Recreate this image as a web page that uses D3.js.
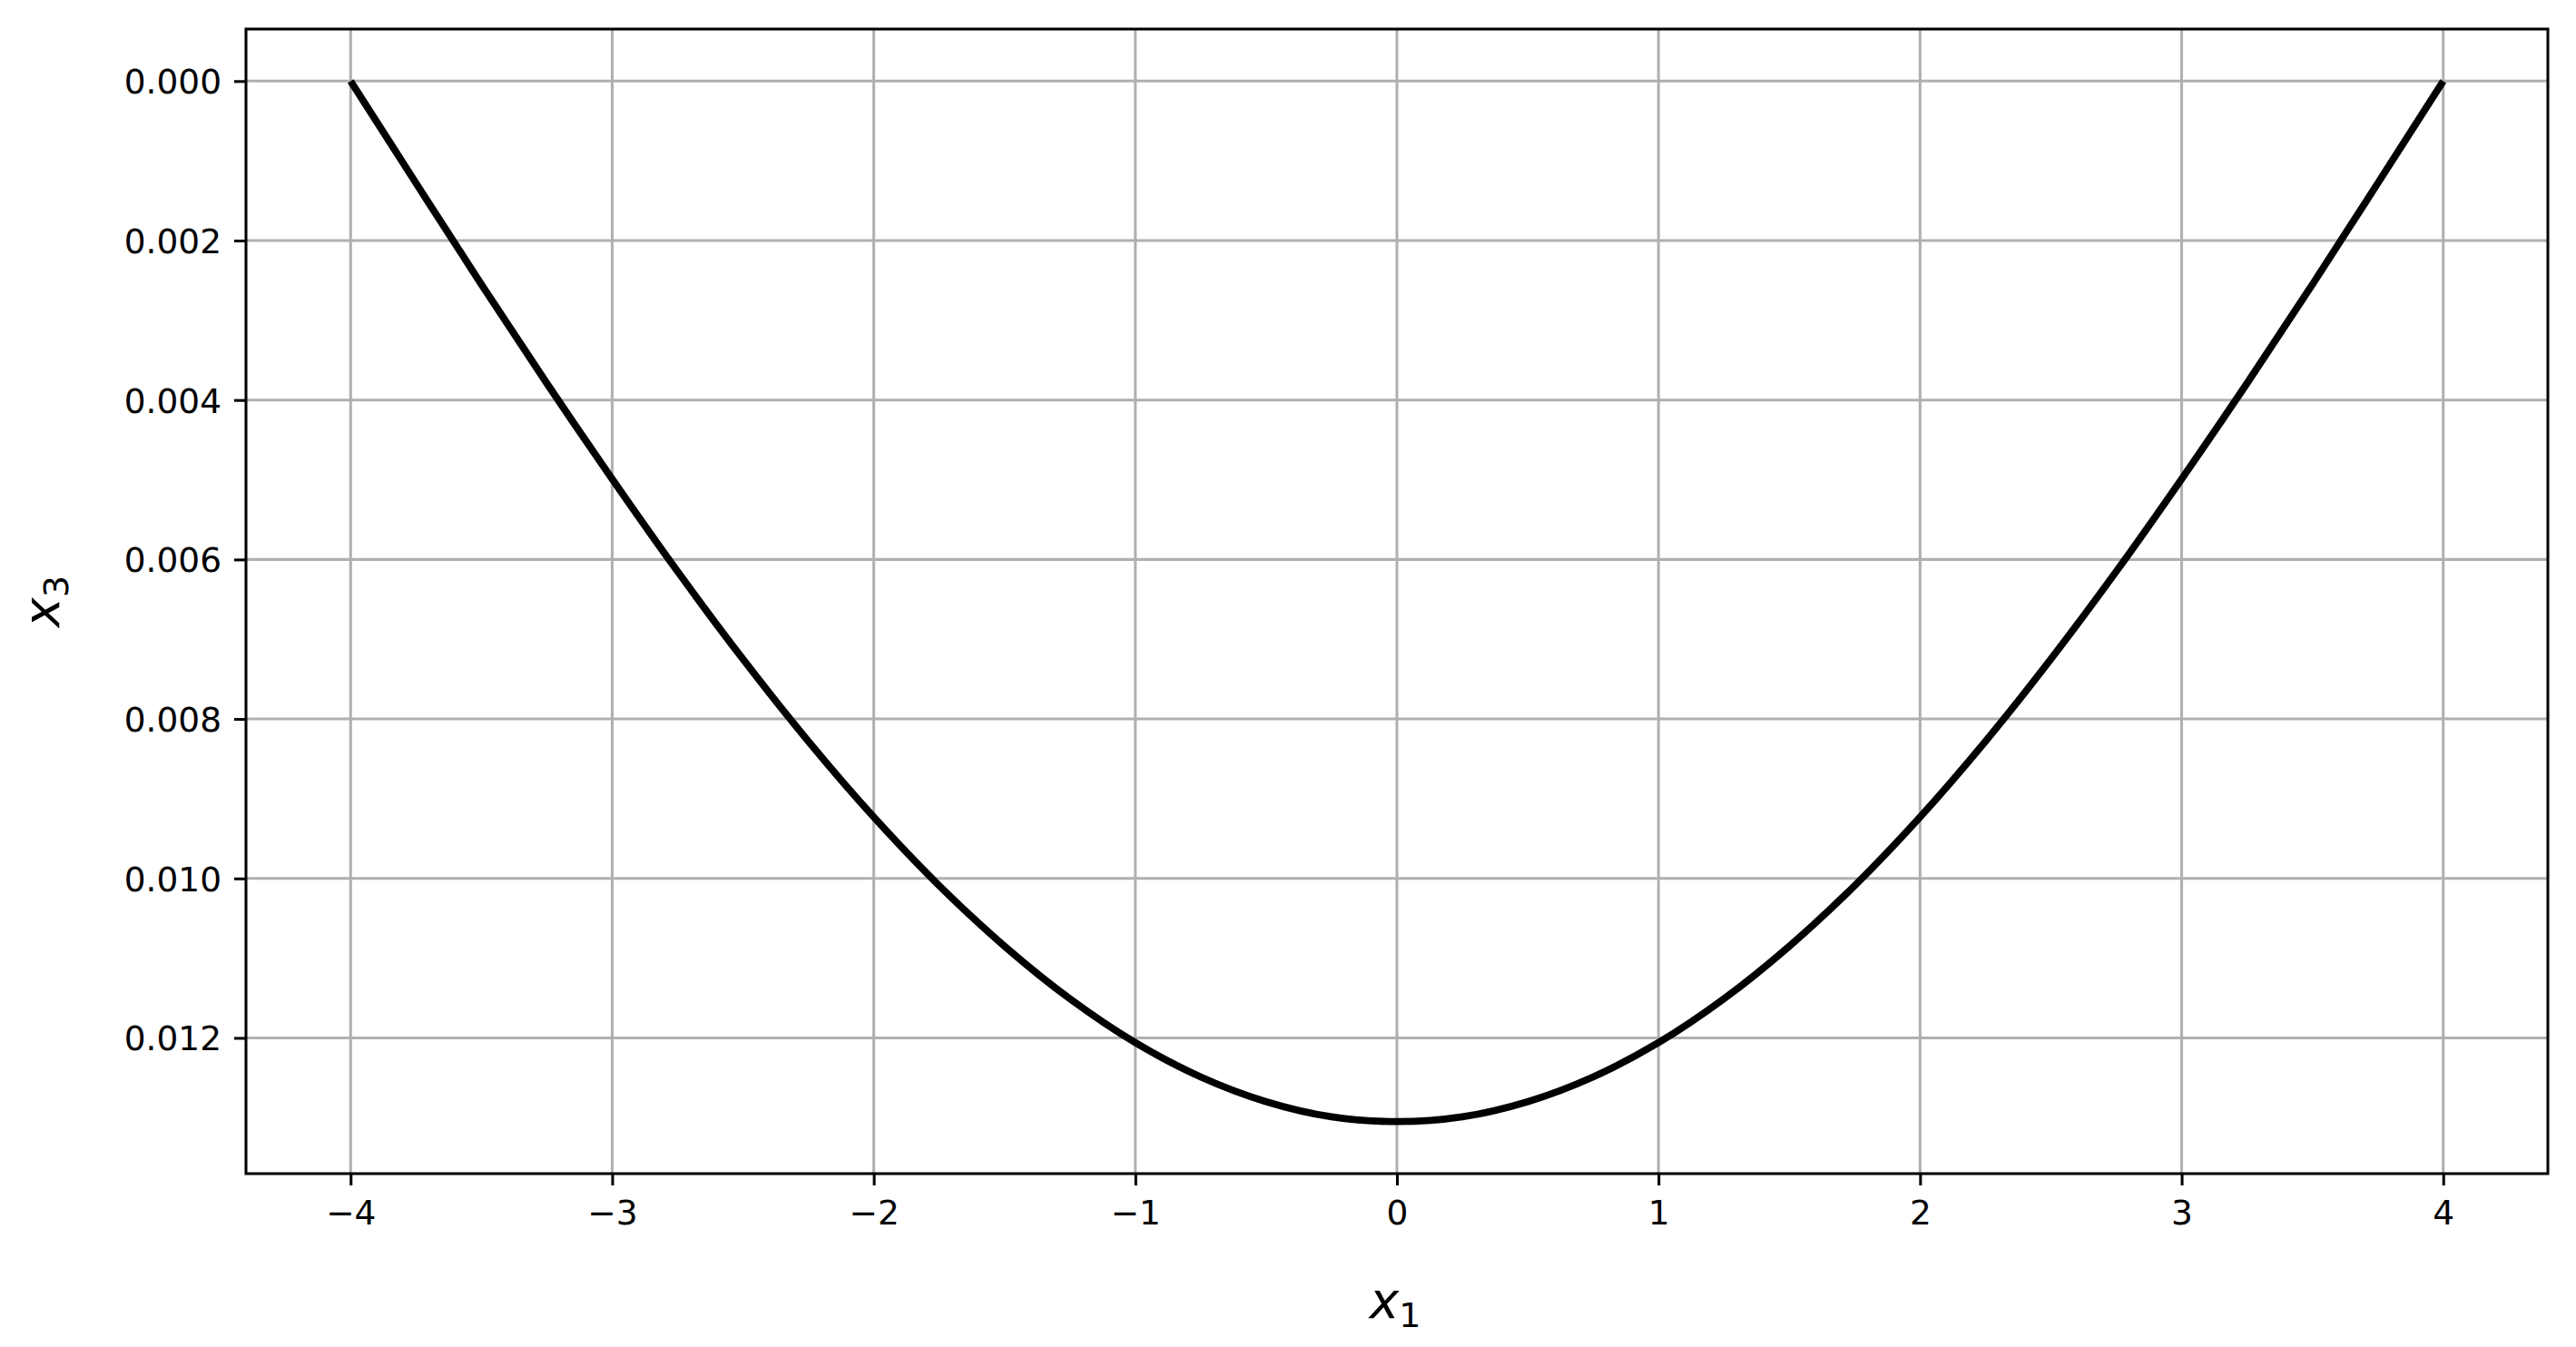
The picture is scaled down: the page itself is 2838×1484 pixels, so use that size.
<!DOCTYPE html>
<html>
<head>
<meta charset="utf-8">
<script src="https://cdn.jsdelivr.net/npm/d3@7"></script>
<style>
  body { margin: 0; background: #fff; }
  text { font-family: "DejaVu Sans", sans-serif; }
</style>
</head>
<body>
<div id="chart"></div>
<script>
// values (x1 -> x3)
var x1Values = [-4, -3.75, -3.5, -3.25, -3, -2.75, -2.5, -2.25, -2, -1.75, -1.5, -1.25, -1, -0.75, -0.5, -0.25,
  0, 0.25, 0.5, 0.75, 1, 1.25, 1.5, 1.75, 2, 2.25, 2.5, 2.75, 3, 3.25, 3.5, 3.75, 4];
var x3Values = [0, 0.00128, 0.00255, 0.00379, 0.00499, 0.00615, 0.00725, 0.00828, 0.00923, 0.01009, 0.01085,
  0.01151, 0.01206, 0.01249, 0.01280, 0.01299, 0.01305, 0.01299, 0.01280, 0.01249, 0.01206, 0.01151, 0.01085,
  0.01009, 0.00923, 0.00828, 0.00725, 0.00615, 0.00499, 0.00379, 0.00255, 0.00128, 0];
var xTicks = [-4, -3, -2, -1, 0, 1, 2, 3, 4];
var yTicks = [0, 0.002, 0.004, 0.006, 0.008, 0.010, 0.012];

var data = x1Values.map(function (x, i) { return { x: x, y: x3Values[i] }; });

var W = 2838, H = 1484;
var margin = { top: 32, right: 31, bottom: 191, left: 271 },
    width = W - margin.left - margin.right,
    height = H - margin.top - margin.bottom;

var svg = d3.select("#chart").append("svg")
    .attr("width", W)
    .attr("height", H);

var g = svg.append("g")
    .attr("transform", "translate(" + margin.left + "," + margin.top + ")");

// matplotlib-style 5% margins
var xExt = d3.extent(data, d => d.x), yExt = d3.extent(data, d => d.y);
var xPad = (xExt[1] - xExt[0]) * 0.05, yPad = (yExt[1] - yExt[0]) * 0.05;

var xScale = d3.scaleLinear()
    .domain([xExt[0] - xPad, xExt[1] + xPad])
    .range([0, width]);
var yScale = d3.scaleLinear()
    .domain([yExt[0] - yPad, yExt[1] + yPad])
    .range([0, height]); // inverted: 0 at top

var lw = 3.05;

// grid
g.append("g").selectAll("line").data(xTicks).enter().append("line")
    .attr("x1", d => xScale(d)).attr("x2", d => xScale(d))
    .attr("y1", 0).attr("y2", height)
    .attr("stroke", "#b0b0b0").attr("stroke-width", lw);
g.append("g").selectAll("line").data(yTicks).enter().append("line")
    .attr("y1", d => yScale(d)).attr("y2", d => yScale(d))
    .attr("x1", 0).attr("x2", width)
    .attr("stroke", "#b0b0b0").attr("stroke-width", lw);

// curve
var line = d3.line()
    .x(d => xScale(d.x))
    .y(d => yScale(d.y))
    .curve(d3.curveCatmullRom);
g.append("path")
    .datum(data)
    .attr("d", line)
    .attr("fill", "none")
    .attr("stroke", "#000")
    .attr("stroke-width", 7.8)
    .attr("stroke-linejoin", "round");

// axes
var xAxis = d3.axisBottom(xScale)
    .tickValues(xTicks)
    .tickFormat(d3.format("d"))
    .tickSize(13)
    .tickPadding(13);
var yAxis = d3.axisLeft(yScale)
    .tickValues(yTicks)
    .tickFormat(d3.format(".3f"))
    .tickSize(13)
    .tickPadding(14);

var xAxisG = g.append("g").attr("transform", "translate(0," + height + ")").call(xAxis);
var yAxisG = g.append("g").call(yAxis);

[xAxisG, yAxisG].forEach(function (a) {
    a.select(".domain").remove();
    a.selectAll(".tick line").attr("stroke", "#000").attr("stroke-width", lw);
    a.selectAll(".tick text")
        .attr("fill", "#000")
        .style("font-family", "'DejaVu Sans', sans-serif")
        .style("font-size", "37.5px");
});
xAxisG.selectAll(".tick text").attr("dy", "0.8em");
yAxisG.selectAll(".tick text").attr("dy", "0.36em");

// frame
g.append("rect")
    .attr("width", width).attr("height", height)
    .attr("fill", "none").attr("stroke", "#000").attr("stroke-width", lw);

// axis labels
var xLabel = svg.append("text")
    .attr("x", margin.left + xScale(0) - 2)
    .attr("y", 1452)
    .attr("text-anchor", "middle")
    .style("font-size", "55px");
xLabel.append("tspan").style("font-style", "italic").text("x");
xLabel.append("tspan").attr("dy", 10).style("font-size", "38px").text("1");

var yLabel = svg.append("text")
    .attr("transform", "translate(" + 65 + "," + (margin.top + height / 2) + ") rotate(-90)")
    .attr("text-anchor", "middle")
    .style("font-size", "55px");
yLabel.append("tspan").style("font-style", "italic").text("x");
yLabel.append("tspan").attr("dy", 10).style("font-size", "38px").text("3");
</script>
</body>
</html>
